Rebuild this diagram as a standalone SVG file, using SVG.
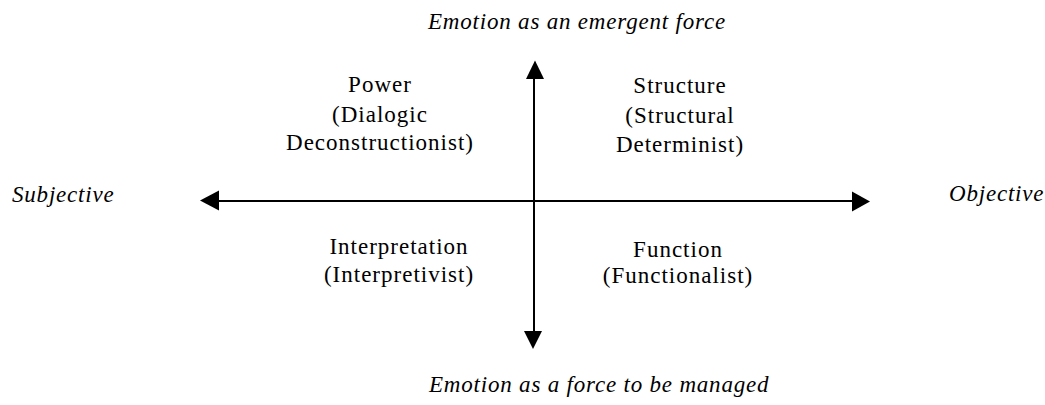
<svg xmlns="http://www.w3.org/2000/svg" width="1045" height="405" viewBox="0 0 1045 405">
  <style>
    .lbl { font-family: "Liberation Serif", serif; font-size: 23px; letter-spacing: 1px; fill: #000; text-anchor: middle; }
    .axis { font-family: "Liberation Serif", serif; font-size: 23px; letter-spacing: 0.8px; font-style: italic; fill: #000; }
    .ax { stroke: #000; stroke-width: 2; fill: none; }
  </style>
  <rect width="1045" height="405" fill="#fff"/>
  <g id="connectors">
    <line class="ax" x1="217" y1="201" x2="854" y2="201"/>
    <polygon points="200,200.5 219,190.5 219,210.5" fill="#000"/>
    <polygon points="870,201.5 852,191.5 852,211.5" fill="#000"/>
    <line class="ax" x1="534" y1="77" x2="534" y2="333"/>
    <polygon points="535,60.5 526,79 544,79" fill="#000"/>
    <polygon points="533,349 524,331 542,331" fill="#000"/>
  </g>
  <g id="top-label"><text class="axis" x="428" y="29">Emotion as an emergent force</text></g>
  <g id="bottom-label"><text class="axis" x="429" y="392">Emotion as a force to be managed</text></g>
  <g id="left-label"><text class="axis" x="12" y="202">Subjective</text></g>
  <g id="right-label"><text class="axis" x="949" y="201">Objective</text></g>
  <g id="power">
    <text class="lbl" x="380" y="92">Power</text>
    <text class="lbl" x="380" y="122">(Dialogic</text>
    <text class="lbl" x="380" y="150">Deconstructionist)</text>
  </g>
  <g id="structure">
    <text class="lbl" x="680" y="93">Structure</text>
    <text class="lbl" x="680" y="123">(Structural</text>
    <text class="lbl" x="680" y="152">Determinist)</text>
  </g>
  <g id="interpretation">
    <text class="lbl" x="399" y="254">Interpretation</text>
    <text class="lbl" x="399" y="282">(Interpretivist)</text>
  </g>
  <g id="function">
    <text class="lbl" x="678" y="257">Function</text>
    <text class="lbl" x="678" y="283">(Functionalist)</text>
  </g>
</svg>
